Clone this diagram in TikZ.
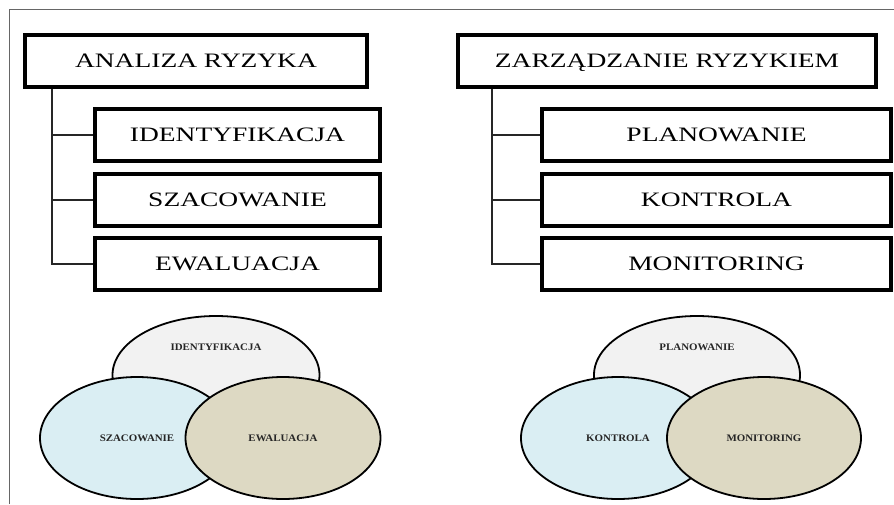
\documentclass[tikz,border=0pt]{standalone}
\usepackage{fontspec}
\setmainfont{Liberation Serif}
\newfontfamily\boxfont[FakeStretch=1.34]{Liberation Serif}
\newfontfamily\bubfont[FakeStretch=1.09]{Liberation Serif}
\usepackage{tikz}
\usepackage{xcolor}
\usetikzlibrary{shapes,positioning}
\definecolor{bubgrey}{HTML}{F2F2F2}
\definecolor{bubblue}{HTML}{DAEEF3}
\definecolor{bubtan}{HTML}{DDD9C3}

\begin{document}
\begin{tikzpicture}
  [x=1pt,y=-1pt,
   box/.style={draw,line width=3.8pt,inner sep=0pt,minimum height=52.2pt,
     text height=13.5pt,text depth=0pt,
     font=\boxfont\fontsize{20.5}{24}\selectfont},
   link/.style={draw=black!85,line width=1.2pt},
   bubble/.style={ellipse,draw,line width=1.8pt,inner sep=0pt},
   bubtext/.style={font=\bubfont\bfseries\fontsize{10}{12}\selectfont,text=black!85}]
  \useasboundingbox (0,0) rectangle (894,504);
  \draw[black!60,line width=1pt] (9,504) -- (9,9) -- (894,9);

  % analiza ryzyka
  \node[box,minimum width=342.2pt] (a0) at (196,61) {ANALIZA RYZYKA};
  \node[box,minimum width=285.2pt] (a1) at (237.5,135) {IDENTYFIKACJA};
  \node[box,minimum width=285.2pt] (a2) at (237.5,200) {SZACOWANIE};
  \node[box,minimum width=285.2pt] (a3) at (237.5,264) {EWALUACJA};
  \coordinate (at) at (52,0);

  % zarzadzanie ryzykiem
  \node[box,minimum width=418.2pt] (z0) at (667,61) {ZARZĄDZANIE RYZYKIEM};
  \node[box,minimum width=349.2pt] (z1) at (716.5,135) {PLANOWANIE};
  \node[box,minimum width=349.2pt] (z2) at (716.5,200) {KONTROLA};
  \node[box,minimum width=349.2pt] (z3) at (716.5,264) {MONITORING};
  \coordinate (zt) at (492,0);

  \foreach \root/\trunk/\child in {a0/at/a1,a0/at/a2,a0/at/a3,z0/zt/z1,z0/zt/z2,z0/zt/z3}
    \draw[link] (\root.south -| \trunk) |- (\child.west);

  % kola
  \node[bubble,fill=bubgrey,minimum width=207pt,minimum height=118pt] (ae1) at (216,375) {};
  \node[bubble,fill=bubblue,minimum width=194pt,minimum height=122pt] (ae2) at (137,438) {};
  \node[bubble,fill=bubtan,minimum width=195pt,minimum height=122pt] (ae3) at (283,438) {};
  \node[bubtext] (at1) at ([yshift=28pt]ae1.center) {IDENTYFIKACJA};
  \node[bubtext] (at2) at (ae2) {SZACOWANIE};
  \node[bubtext] (at3) at (ae3) {EWALUACJA};

  \node[bubble,fill=bubgrey,minimum width=206pt,minimum height=118pt] (ze1) at (697,375) {};
  \node[bubble,fill=bubblue,minimum width=194pt,minimum height=122pt] (ze2) at (618,438) {};
  \node[bubble,fill=bubtan,minimum width=194pt,minimum height=122pt] (ze3) at (764,438) {};
  \node[bubtext] (zt1) at ([yshift=28pt]ze1.center) {PLANOWANIE};
  \node[bubtext] (zt2) at (ze2) {KONTROLA};
  \node[bubtext] (zt3) at (ze3) {MONITORING};

\end{tikzpicture}
\end{document}
